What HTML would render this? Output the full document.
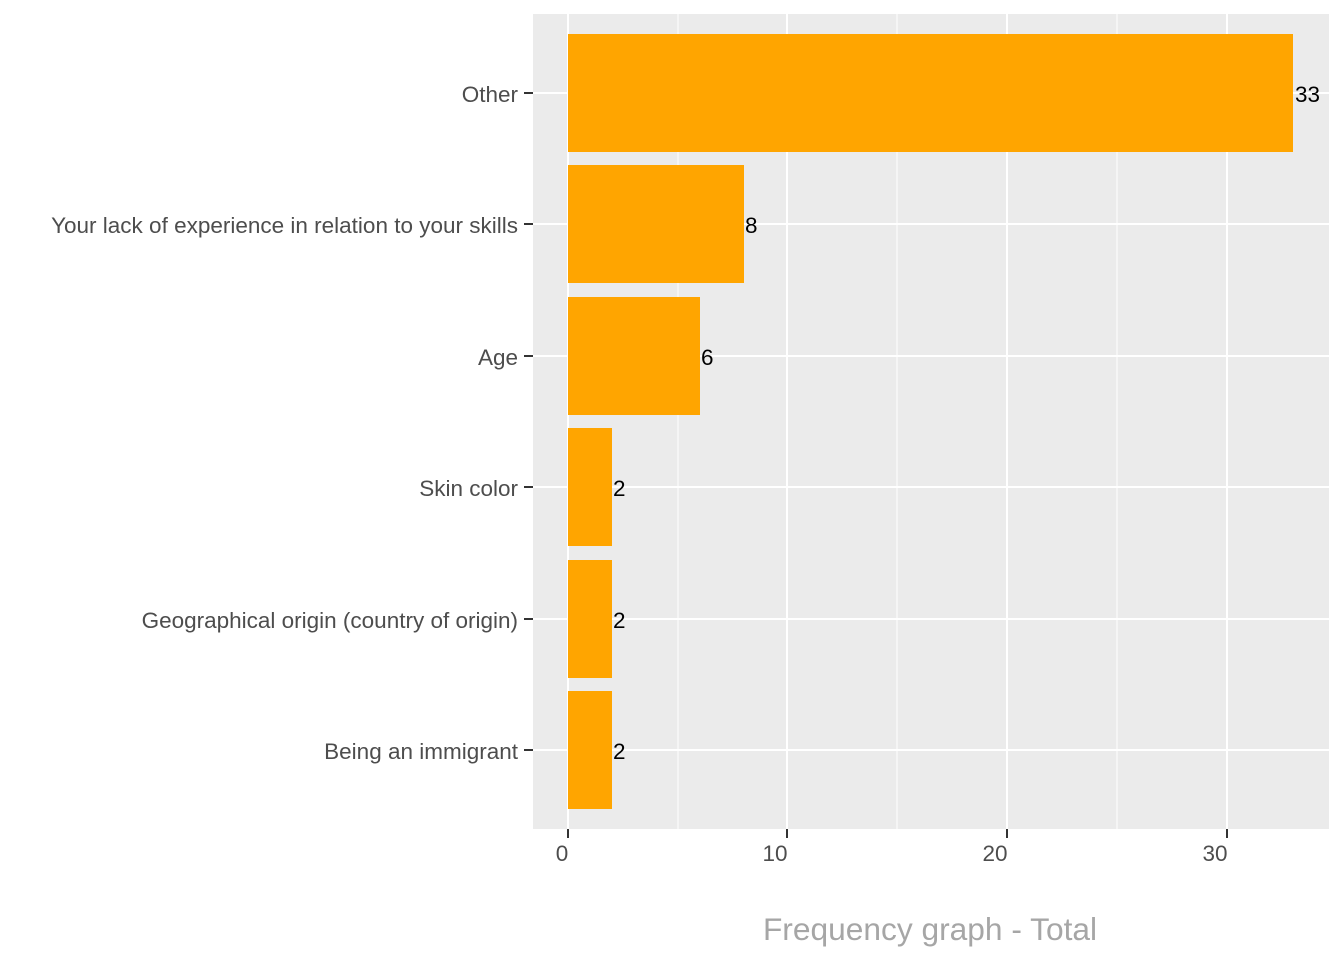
<!DOCTYPE html>
<html><head><style>body{margin:0;background:#fff}</style></head><body>
<svg width="1344" height="960" xmlns="http://www.w3.org/2000/svg" font-family="Liberation Sans, Arial, sans-serif">
<rect x="533" y="14" width="796" height="815" fill="#ebebeb"/>
<g stroke="#fff" stroke-width="1">
<line x1="678" y1="14" x2="678" y2="829"/><line x1="897" y1="14" x2="897" y2="829"/><line x1="1117" y1="14" x2="1117" y2="829"/>
</g>
<g stroke="#fff" stroke-width="2">
<line x1="568" y1="14" x2="568" y2="829"/><line x1="787" y1="14" x2="787" y2="829"/><line x1="1007" y1="14" x2="1007" y2="829"/><line x1="1227" y1="14" x2="1227" y2="829"/>
<line x1="533" y1="93" x2="1329" y2="93"/><line x1="533" y1="224" x2="1329" y2="224"/><line x1="533" y1="356" x2="1329" y2="356"/><line x1="533" y1="487" x2="1329" y2="487"/><line x1="533" y1="619" x2="1329" y2="619"/><line x1="533" y1="750" x2="1329" y2="750"/>
</g>
<g fill="#ffa500">
<rect x="568" y="34" width="725" height="118"/>
<rect x="568" y="165" width="176" height="118"/>
<rect x="568" y="297" width="132" height="118"/>
<rect x="568" y="428" width="44" height="118"/>
<rect x="568" y="560" width="44" height="118"/>
<rect x="568" y="691" width="44" height="118"/>
</g>
<g font-size="22.5" fill="#000">
<text x="1295" y="102">33</text><text x="745" y="233">8</text><text x="701" y="365">6</text>
<text x="613" y="496">2</text><text x="613" y="628">2</text><text x="613" y="759">2</text>
</g>
<g stroke="#333" stroke-width="2">
<line x1="524" y1="93" x2="533" y2="93"/><line x1="524" y1="224" x2="533" y2="224"/><line x1="524" y1="356" x2="533" y2="356"/><line x1="524" y1="487" x2="533" y2="487"/><line x1="524" y1="619" x2="533" y2="619"/><line x1="524" y1="750" x2="533" y2="750"/>
<line x1="568" y1="829" x2="568" y2="838"/><line x1="787" y1="829" x2="787" y2="838"/><line x1="1007" y1="829" x2="1007" y2="838"/><line x1="1227" y1="829" x2="1227" y2="838"/>
</g>
<g font-size="22.5" fill="#4d4d4d" text-anchor="end">
<text x="518" y="102">Other</text>
<text x="518" y="233">Your lack of experience in relation to your skills</text>
<text x="518" y="365">Age</text>
<text x="518" y="496">Skin color</text>
<text x="518" y="628">Geographical origin (country of origin)</text>
<text x="518" y="759">Being an immigrant</text>
</g>
<g font-size="22.5" fill="#4d4d4d" text-anchor="middle">
<text x="562" y="861">0</text><text x="775" y="861">10</text><text x="995" y="861">20</text><text x="1215" y="861">30</text>
</g>
<text x="930" y="940" font-size="31.7" fill="#a6a6a6" text-anchor="middle">Frequency graph - Total</text>
</svg>
</body></html>
